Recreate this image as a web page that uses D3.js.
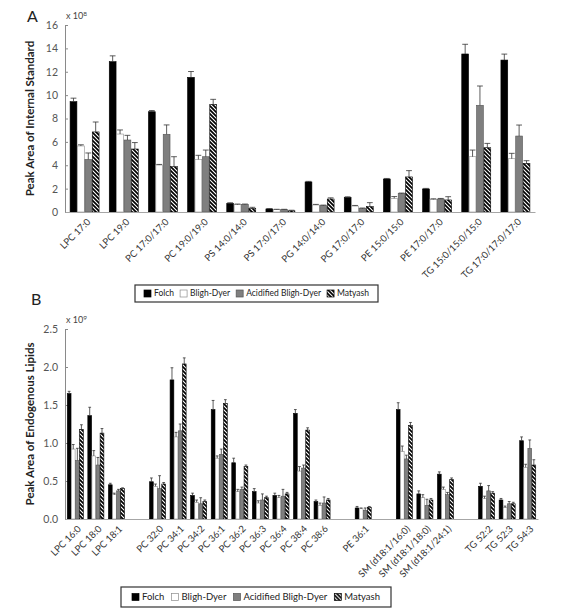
<!DOCTYPE html>
<html>
<head>
<meta charset="utf-8">
<script src="https://cdn.jsdelivr.net/npm/d3@7"></script>
<style>
  body { margin: 0; background: #fff; }
  text { font-family: Lato, "Open Sans", sans-serif; }
</style>
</head>
<body>
<script>
// extraction methods (legend order)
var seriesNames = ["Folch", "Bligh-Dyer", "Acidified Bligh-Dyer", "Matyash"];

// panel A - internal standards (x 10^8)
var categoriesA = ["LPC 17:0", "LPC 19:0", "PC 17:0/17:0", "PC 19:0/19:0", "PS 14:0/14:0", "PS 17:0/17:0",
  "PG 14:0/14:0", "PG 17:0/17:0", "PE 15:0/15:0", "PE 17:0/17:0", "TG 15:0/15:0/15:0", "TG 17:0/17:0/17:0"];
var folchA     = [9.44, 12.86, 8.58, 11.52, 0.74, 0.26, 2.57, 1.25, 2.82, 1.97, 13.52, 13.0];
var folchAErr  = [0.3, 0.5, 0.1, 0.5, 0.05, 0.03, 0.05, 0.05, 0.05, 0.05, 0.83, 0.51];
var blighA     = [5.65, 6.67, 4.02, 4.5, 0.63, 0.2, 0.6, 0.51, 1.17, 1.08, 4.73, 4.56];
var blighAErr  = [0.1, 0.35, 0.05, 0.35, 0.05, 0.03, 0.05, 0.05, 0.15, 0.05, 0.57, 0.46];
var acidA      = [4.5, 6.16, 6.65, 4.73, 0.63, 0.2, 0.54, 0.29, 1.57, 1.11, 9.13, 6.5];
var acidAErr   = [0.55, 0.4, 0.8, 0.57, 0.05, 0.03, 0.05, 0.05, 0.05, 0.05, 1.65, 0.94];
var matyA      = [6.85, 5.39, 3.88, 9.21, 0.3, 0.1, 1.11, 0.46, 3.0, 1.03, 5.5, 4.16];
var matyAErr   = [0.85, 0.55, 0.85, 0.43, 0.1, 0.05, 0.1, 0.34, 0.54, 0.28, 0.37, 0.23];
var yTicksA = [0, 2, 4, 6, 8, 10, 12, 14, 16];

// panel B - endogenous lipids (x 10^9), "" = empty slot between lipid classes
var categoriesB = ["LPC 16:0", "LPC 18:0", "LPC 18:1", "", "PC 32:0", "PC 34:1", "PC 34:2", "PC 36:1", "PC 36:2",
  "PC 36:3", "PC 36:4", "PC 38:4", "PC 38:6", "", "PE 36:1", "", "SM (d18:1/16:0)", "SM (d18:1/18:0)",
  "SM (d18:1/24:1)", "", "TG 52:2", "TG 52:3", "TG 54:3"];
var folchB    = [1.65, 1.36, 0.45, null, 0.49, 1.83, 0.31, 1.44, 0.74, 0.36, 0.31, 1.39, 0.23, null, 0.145, null, 1.44, 0.33, 0.59, null, 0.43, 0.25, 1.03];
var folchBErr = [0.03, 0.11, 0.02, null, 0.05, 0.16, 0.03, 0.12, 0.06, 0.04, 0.03, 0.05, 0.02, null, 0.02, null, 0.09, 0.04, 0.03, null, 0.04, 0.02, 0.05];
var blighB    = [0.92, 0.83, 0.32, null, 0.43, 1.08, 0.22, 0.8, 0.36, 0.21, 0.28, 0.63, 0.18, null, 0.135, null, 0.89, 0.28, 0.39, null, 0.27, 0.15, 0.68];
var blighBErr = [0.06, 0.07, 0.02, null, 0.03, 0.06, 0.03, 0.03, 0.03, 0.03, 0.03, 0.06, 0.03, null, 0.01, null, 0.07, 0.04, 0.03, null, 0.03, 0.02, 0.04];
var acidB     = [0.77, 0.71, 0.37, null, 0.40, 1.16, 0.2, 0.85, 0.39, 0.25, 0.3, 0.67, 0.21, null, 0.115, null, 0.79, 0.18, 0.32, null, 0.37, 0.2, 0.93];
var acidBErr  = [0.16, 0.1, 0.02, null, 0.17, 0.09, 0.08, 0.07, 0.03, 0.08, 0.09, 0.04, 0.08, null, 0.03, null, 0.05, 0.08, 0.03, null, 0.07, 0.03, 0.11];
var matyB     = [1.18, 1.13, 0.40, null, 0.46, 2.04, 0.23, 1.52, 0.69, 0.28, 0.33, 1.17, 0.25, null, 0.155, null, 1.23, 0.25, 0.52, null, 0.34, 0.2, 0.71];
var matyBErr  = [0.06, 0.06, 0.01, null, 0.02, 0.08, 0.02, 0.05, 0.02, 0.02, 0.02, 0.03, 0.02, null, 0.01, null, 0.04, 0.02, 0.02, null, 0.02, 0.02, 0.07];
var yTicksB = [0, 0.5, 1, 1.5, 2, 2.5];

// bar styles per method
var fills = ["#000", "#fff", "#7f7f7f", "url(#hatch)"];
var strokes = ["#000", "#8c8c8c", "#555", "#000"];

var svg = d3.select("body").append("svg")
  .attr("width", 580)
  .attr("height", 616);

// diagonal hatch for Matyash
var pat = svg.append("defs").append("pattern")
  .attr("id", "hatch")
  .attr("patternUnits", "userSpaceOnUse")
  .attr("width", 4)
  .attr("height", 4);
pat.append("rect").attr("width", 4).attr("height", 4).attr("fill", "#fff");
pat.append("path")
  .attr("d", "M-1,-1L5,5M-1,3L1,5M3,-1L5,1")
  .attr("stroke", "#000")
  .attr("stroke-width", 1.7);

function drawPanel(opt) {
  var g = svg.append("g");

  var x = d3.scaleBand()
    .domain(d3.range(opt.categories.length))
    .range([opt.left, opt.right]);
  var xInner = d3.scaleBand()
    .domain(d3.range(seriesNames.length))
    .range([x.bandwidth() * opt.groupPad, x.bandwidth() * (1 - opt.groupPad)])
    .paddingInner(0.08);
  var y = d3.scaleLinear()
    .domain([0, opt.yMax])
    .range([opt.bottom, opt.top]);

  // y axis
  var yAxis = g.append("g")
    .attr("transform", `translate(${opt.left},0)`)
    .call(d3.axisLeft(y).tickValues(opt.yTicks).tickSize(-3).tickSizeOuter(0).tickPadding(7));
  yAxis.select(".domain").attr("stroke", "#8a8a8a");
  yAxis.selectAll(".tick line").attr("stroke", "#8a8a8a");
  yAxis.selectAll("text").attr("fill", "#555").attr("font-size", "10.5px");

  // bars + error bars
  opt.series.forEach(function(s, si) {
    var rows = s.vals.map(function(v, i) { return {i: i, v: v, e: s.errs[i]}; })
      .filter(function(d) { return d.v != null; });

    g.selectAll(null)
      .data(rows)
      .enter()
      .append("rect")
      .attr("x", d => x(d.i) + xInner(si))
      .attr("y", d => y(d.v))
      .attr("width", xInner.bandwidth())
      .attr("height", d => opt.bottom - y(d.v))
      .attr("fill", fills[si])
      .attr("stroke", strokes[si])
      .attr("stroke-width", 0.6);

    var eb = g.selectAll(null)
      .data(rows)
      .enter()
      .append("g")
      .attr("stroke", "#333")
      .attr("stroke-width", 0.8);
    eb.append("line")
      .attr("x1", d => x(d.i) + xInner(si) + xInner.bandwidth() / 2)
      .attr("x2", d => x(d.i) + xInner(si) + xInner.bandwidth() / 2)
      .attr("y1", d => y(d.v))
      .attr("y2", d => y(d.v + d.e));
    eb.append("line")
      .attr("x1", d => x(d.i) + xInner(si) + 0.5)
      .attr("x2", d => x(d.i) + xInner(si) + xInner.bandwidth() - 0.5)
      .attr("y1", d => y(d.v + d.e))
      .attr("y2", d => y(d.v + d.e));
  });

  // x axis, labels rotated like the excel original
  var xAxis = g.append("g")
    .attr("transform", `translate(0,${opt.bottom})`)
    .call(d3.axisBottom(x).tickSize(0).tickSizeOuter(0).tickFormat(i => opt.categories[i]));
  xAxis.select(".domain").attr("stroke", "#a6a6a6");
  xAxis.selectAll("text")
    .attr("fill", "#333")
    .attr("font-size", opt.labelSize)
    .attr("text-anchor", "end")
    .attr("dy", "0.35em")
    .attr("transform", "translate(2,6) rotate(-45)");

  // multiplier
  var mult = g.append("text")
    .attr("x", opt.left + 1)
    .attr("y", opt.top - 6)
    .attr("font-size", "9px")
    .attr("fill", "#444")
    .text("x 10");
  mult.append("tspan")
    .attr("font-size", "6.5px")
    .attr("dy", "-3")
    .text(opt.power);

  // y title
  g.append("text")
    .attr("transform", `translate(${opt.titleX},${(opt.top + opt.bottom) / 2}) rotate(-90)`)
    .attr("text-anchor", "middle")
    .attr("font-size", "11.5px")
    .attr("font-weight", "bold")
    .attr("fill", "#222")
    .text(opt.yTitle);

  // panel letter
  g.append("text")
    .attr("x", opt.letterPos[0])
    .attr("y", opt.letterPos[1])
    .attr("font-size", "16px")
    .attr("fill", "#222")
    .text(opt.letter);

  // legend - items spread evenly inside the box
  var lg = g.append("g").attr("transform", `translate(${opt.legend.x},${opt.legend.y})`);
  lg.append("rect")
    .attr("width", opt.legend.w)
    .attr("height", opt.legend.h)
    .attr("fill", "#fff")
    .attr("stroke", "#333")
    .attr("stroke-width", 1.2);
  var items = seriesNames.map(function(name, si) {
    var it = lg.append("g");
    it.append("rect")
      .attr("y", opt.legend.h / 2 - 3.5)
      .attr("width", 7)
      .attr("height", 7)
      .attr("fill", fills[si])
      .attr("stroke", strokes[si])
      .attr("stroke-width", 0.7);
    var t = it.append("text")
      .attr("x", 10)
      .attr("y", opt.legend.h / 2)
      .attr("dy", "0.35em")
      .attr("font-size", opt.legend.fs)
      .attr("fill", "#222")
      .text(name);
    return {g: it, w: 10 + t.node().getComputedTextLength()};
  });
  var used = d3.sum(items, d => d.w);
  var gap = (opt.legend.w - 2 * opt.legend.pad - used) / (items.length - 1);
  var cx = opt.legend.pad;
  items.forEach(function(d) {
    d.g.attr("transform", `translate(${cx},0)`);
    cx += d.w + gap;
  });
}

drawPanel({
  categories: categoriesA,
  series: [{vals: folchA, errs: folchAErr}, {vals: blighA, errs: blighAErr},
           {vals: acidA, errs: acidAErr}, {vals: matyA, errs: matyAErr}],
  yMax: 16, yTicks: yTicksA, power: "8",
  left: 65, right: 535, top: 25, bottom: 212,
  groupPad: 0.13, labelSize: "9.5px",
  yTitle: "Peak Area of Internal Standard", titleX: 34,
  letter: "A", letterPos: [27, 22],
  legend: {x: 135, y: 285, w: 243, h: 17, pad: 9, fs: "8.5px"}
});

drawPanel({
  categories: categoriesB,
  series: [{vals: folchB, errs: folchBErr}, {vals: blighB, errs: blighBErr},
           {vals: acidB, errs: acidBErr}, {vals: matyB, errs: matyBErr}],
  yMax: 2.5, yTicks: yTicksB, power: "9",
  left: 65, right: 538, top: 329, bottom: 519,
  groupPad: 0.11, labelSize: "9.5px",
  yTitle: "Peak Area of Endogenous Lipids", titleX: 34,
  letter: "B", letterPos: [31, 305],
  legend: {x: 121, y: 587, w: 270, h: 20, pad: 11, fs: "9.5px"}
});
</script>
</body>
</html>
